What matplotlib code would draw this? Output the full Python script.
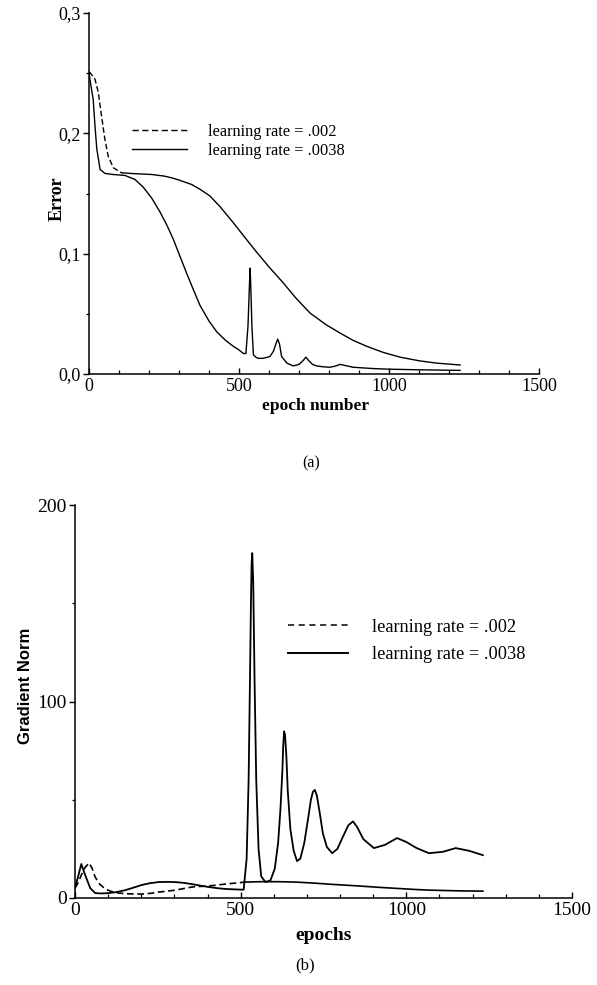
import matplotlib
matplotlib.use("Agg")
import matplotlib.pyplot as plt
from matplotlib.lines import Line2D
from matplotlib.ticker import MultipleLocator, FixedLocator, FixedFormatter

# ---------------- data ----------------
# (a) Error vs epoch number
err_x_slow = [0, 3, 20, 31, 42, 53, 64, 81, 109, 150, 209, 250, 276, 300, 342, 370, 403,
              437, 480, 553, 600, 648, 690, 737, 790, 837, 880, 926, 980, 1037, 1100,
              1160, 1237]
err_y_slow = [0.251, 0.2506, 0.245, 0.234, 0.214, 0.195, 0.181, 0.1714, 0.1672, 0.1665,
              0.1658, 0.1645, 0.163, 0.1612, 0.1575, 0.1535, 0.148, 0.139, 0.126, 0.103,
              0.089, 0.0756, 0.063, 0.0506, 0.041, 0.034, 0.028, 0.023, 0.018, 0.014,
              0.011, 0.009, 0.0075]

err_x_fast = [0, 3, 14, 20, 26, 37, 53, 80, 120, 153, 181, 209, 237, 260, 281, 303, 325,
              348, 370, 400, 426, 455, 481, 500, 515, 523, 530, 535, 537, 539, 543, 548,
              556, 564, 580, 603, 615, 623, 629, 635, 642, 660, 681, 700, 713, 723, 733,
              745, 759, 780, 803, 820, 837, 855, 881, 948, 1000, 1100, 1237]
err_y_fast = [0.2506, 0.245, 0.228, 0.206, 0.187, 0.17, 0.1667, 0.1658, 0.165, 0.1617,
              0.1552, 0.1462, 0.1345, 0.1235, 0.112, 0.098, 0.084, 0.07, 0.057, 0.044,
              0.035, 0.028, 0.023, 0.02, 0.017, 0.017, 0.04, 0.075, 0.088, 0.075, 0.04,
              0.016, 0.014, 0.013, 0.013, 0.0145, 0.019, 0.025, 0.029, 0.025, 0.0145,
              0.009, 0.0067, 0.008, 0.011, 0.014, 0.011, 0.008, 0.0067, 0.006, 0.0056,
              0.0065, 0.008, 0.007, 0.0056, 0.0045, 0.004, 0.0035, 0.003]

# (b) Gradient norm vs epochs
grad_x_slow = [0, 10, 20, 30, 43, 52, 61, 75, 91, 110, 131, 165, 201, 230, 252, 278, 303,
               328, 353, 378, 403, 430, 454, 485, 514, 560, 614, 666, 720, 770, 820, 867,
               920, 970, 1020, 1069, 1120, 1170, 1231]
grad_y_slow = [5, 8, 12, 15.5, 17.8, 15, 10.6, 7, 4.6, 3.3, 2.5, 2.1, 2, 2.4, 3, 3.5, 4,
               4.8, 5.6, 5.9, 6.1, 6.6, 7.1, 7.6, 8.1, 8.3, 8.3, 8.1, 7.6, 7, 6.5, 6,
               5.4, 4.9, 4.4, 4, 3.8, 3.6, 3.5]

grad_x_fast = [0, 8, 19, 30, 46, 61, 80, 101, 125, 152, 175, 201, 225, 252, 278, 303, 328,
               352, 378, 403, 430, 454, 480, 509, 518, 524, 528, 531, 533, 535, 538, 542,
               547, 554, 562, 575, 590, 603, 613, 620, 626, 628, 631, 634, 638, 642, 650,
               660, 670, 680, 692, 705, 712, 718, 724, 730, 738, 748, 760, 776, 792, 808,
               825, 839, 852, 870, 902, 935, 972, 1000, 1030, 1068, 1110, 1149, 1190, 1231]
grad_y_fast = [5, 10, 17.3, 12, 5, 2.5, 2.3, 2.5, 3, 4, 5.2, 6.6, 7.5, 8.1, 8.2, 8.1, 7.7,
               7.1, 6.3, 5.6, 5, 4.6, 4.4, 4.2, 20, 60, 110, 150, 170, 175.5, 160, 110,
               60, 25, 11, 8.1, 9, 15, 28, 45, 65, 76, 84.8, 83, 72, 55, 35,
               24, 18.8, 20, 28, 42, 50, 54, 55, 52, 44, 33, 26, 22.8, 25, 31,
               37, 39, 36, 30, 25.4, 27, 30.5, 28.5, 25.5, 22.8, 23.5, 25.4, 24, 21.8]

label_slow = "learning rate = .002"
label_fast = "learning rate = .0038"

x_ticks = [0, 500, 1000, 1500]
x_ticklabels = ["0", "500", "1000", "1500"]
err_yticks = [0.0, 0.1, 0.2, 0.3]
err_yticklabels = ["0,0", "0,1", "0,2", "0,3"]
grad_yticks = [0, 100, 200]
grad_yticklabels = ["0", "100", "200"]

# ---------------- figure ----------------
W, H = 597, 985
fig = plt.figure(figsize=(W / 100, H / 100), dpi=100)
fig.patch.set_facecolor("white")
SERIF = ["Liberation Serif", "DejaVu Serif"]
SANS = ["Liberation Sans", "DejaVu Sans"]


def px_ax(l, t, r, b):
    return [l / W, 1 - b / H, (r - l) / W, (b - t) / H]


def style_axes(ax, fs):
    for s in ("top", "right"):
        ax.spines[s].set_visible(False)
    for s in ("left", "bottom"):
        ax.spines[s].set_linewidth(1.1)
    ax.tick_params(axis="x", which="major", direction="in", length=4, width=1.0,
                   pad=3, labelsize=fs)
    ax.tick_params(axis="x", which="minor", direction="in", length=3, width=0.9)
    ax.tick_params(axis="y", which="major", direction="out", length=4, width=1.0,
                   pad=2, labelsize=fs)
    ax.tick_params(axis="y", which="minor", direction="out", length=2.5, width=0.9)
    for lab in ax.get_xticklabels() + ax.get_yticklabels():
        lab.set_family(SERIF)


# ----- (a) -----
ax1 = fig.add_axes(px_ax(89, 13, 539, 374))
split_a = 8  # dashed drawing for the early part, as in the scan
ax1.plot(err_x_slow[:split_a + 1], err_y_slow[:split_a + 1], color="black", lw=1.0,
         dashes=(4, 2))
ax1.plot(err_x_slow[split_a:], err_y_slow[split_a:], color="black", lw=1.0)
ax1.plot(err_x_fast, err_y_fast, color="black", lw=1.0)
ax1.set_xlim(0, 1500)
ax1.set_ylim(0, 0.3)
ax1.xaxis.set_major_locator(FixedLocator(x_ticks))
ax1.xaxis.set_major_formatter(FixedFormatter(x_ticklabels))
ax1.xaxis.set_minor_locator(MultipleLocator(100))
ax1.yaxis.set_major_locator(FixedLocator(err_yticks))
ax1.yaxis.set_major_formatter(FixedFormatter(err_yticklabels))
ax1.yaxis.set_minor_locator(MultipleLocator(0.05))
style_axes(ax1, 13)

h_slow = Line2D([], [], color="black", lw=1.0, dashes=(4.5, 2.5))
h_fast = Line2D([], [], color="black", lw=1.0)
leg1 = ax1.legend([h_slow, h_fast], [label_slow, label_fast], loc="upper left",
                  bbox_to_anchor=(132 / W, 1 - 123.5 / H), bbox_transform=fig.transFigure,
                  frameon=False, borderpad=0, borderaxespad=0, handlelength=3.35,
                  handletextpad=1.28, labelspacing=0.2,
                  prop={"family": SERIF, "size": 11.8})

fig.text(57 / W, 1 - 199 / H, "Error", rotation=90, ha="center", va="center",
         family=SERIF, weight="bold", size=13)
fig.text(316 / W, 1 - 406 / H, "epoch number", ha="center", va="center",
         family=SERIF, weight="bold", size=12.5)
fig.text(311 / W, 1 - 463 / H, "(a)", ha="center", va="center", family=SERIF, size=11.5)

# ----- (b) -----
ax2 = fig.add_axes(px_ax(75, 505, 572, 898))
split_b = 24
ax2.plot(grad_x_slow[:split_b + 1], grad_y_slow[:split_b + 1], color="black", lw=1.2,
         dashes=(4, 2.2))
ax2.plot(grad_x_slow[split_b:], grad_y_slow[split_b:], color="black", lw=1.2)
ax2.plot(grad_x_fast, grad_y_fast, color="black", lw=1.3)
ax2.set_xlim(0, 1500)
ax2.set_ylim(0, 200)
ax2.xaxis.set_major_locator(FixedLocator(x_ticks))
ax2.xaxis.set_major_formatter(FixedFormatter(x_ticklabels))
ax2.xaxis.set_minor_locator(MultipleLocator(100))
ax2.yaxis.set_major_locator(FixedLocator(grad_yticks))
ax2.yaxis.set_major_formatter(FixedFormatter(grad_yticklabels))
ax2.yaxis.set_minor_locator(MultipleLocator(50))
style_axes(ax2, 14)

h_slow2 = Line2D([], [], color="black", lw=1.1, dashes=(4, 3))
h_fast2 = Line2D([], [], color="black", lw=1.4)
leg2 = ax2.legend([h_slow2, h_fast2], [label_slow, label_fast], loc="upper left",
                  bbox_to_anchor=(288 / W, 1 - 618.5 / H), bbox_transform=fig.transFigure,
                  frameon=False, borderpad=0, borderaxespad=0, handlelength=3.28,
                  handletextpad=1.3, labelspacing=0.57,
                  prop={"family": SERIF, "size": 13.2})

fig.text(25 / W, 1 - 686 / H, "Gradient Norm", rotation=90, ha="center", va="center",
         family=SANS, weight="bold", size=12)
fig.text(324 / W, 1 - 935 / H, "epochs", ha="center", va="center",
         family=SERIF, weight="bold", size=14)
fig.text(305 / W, 1 - 965 / H, "(b)", ha="center", va="center", family=SERIF, size=12)

fig.savefig("out.png", dpi=100, facecolor="white")
